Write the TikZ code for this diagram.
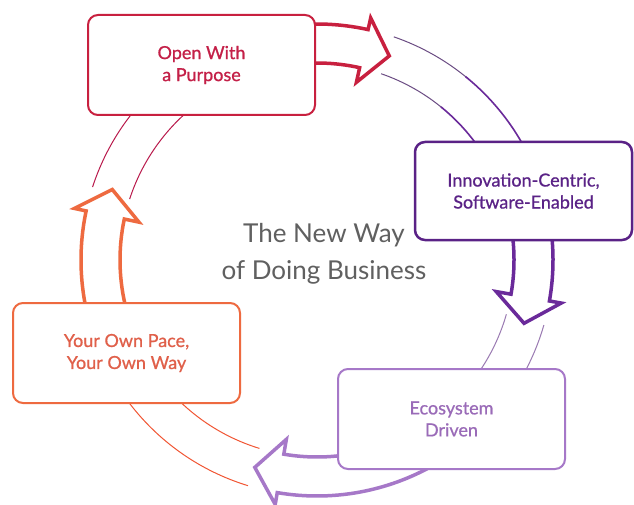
\documentclass[tikz,border=0pt]{standalone}
\usepackage{fontspec}
\setmainfont{Lato}
\newfontfamily\boxfont{Lato}[FakeBold=0.8]
\definecolor{cOpen}{HTML}{C8203F}
\definecolor{cOpenT}{HTML}{C42048}
\definecolor{cInno}{HTML}{5A2286}
\definecolor{cInnoA}{HTML}{6A2A9A}
\definecolor{cEco}{HTML}{A678C8}
\definecolor{cEcoT}{HTML}{9A6BB8}
\definecolor{cPace}{HTML}{EE6A40}
\definecolor{cPaceT}{HTML}{E0604A}
\definecolor{cMid}{HTML}{606060}
\tikzset{
  stepbox/.style={draw, fill=white, rounded corners=10pt, line width=2pt,
    minimum width=227pt, minimum height=100pt, align=center,
    font=\boxfont\fontsize{18}{22}\selectfont},
  ringarrow/.style={fill=white, line width=3.5pt, line join=miter},
  thinring/.style={line width=1pt}
}
\newcommand{\ringarrow}[3]{% start angle, head base angle, style
  \draw[ringarrow,#3] (#1:236) arc[start angle=#1, end angle=#2, radius=236]
    -- (#2:248) -- ({#2-7}:216.5) -- (#2:182) -- (#2:197)
    arc[start angle=#2, end angle=#1, radius=197] -- cycle;}
\begin{document}
\begin{tikzpicture}[x=1pt,y=1pt]
\useasboundingbox (0,0) rectangle (634,-505);
\fill[white] (0,0) rectangle (634,-505);
\coordinate (C) at (317,-260);
\begin{scope}[shift={(C)}]
  % thin ring segments
  \draw[thinring, color=cInno!55!gray] (71:236) arc[start angle=71, end angle=50, radius=236];
  \draw[thinring, color=cInno!55!gray] (71:197) arc[start angle=71, end angle=50, radius=197];
  \draw[line width=1.6pt, color=cInnoA] (51:236) arc[start angle=51, end angle=25, radius=236];
  \draw[line width=1.6pt, color=cInnoA] (51:197) arc[start angle=51, end angle=25, radius=197];
  \draw[thinring, color=cEco!70!gray] (-16:236) arc[start angle=-16, end angle=-40, radius=236];
  \draw[thinring, color=cEco!70!gray] (-16:197) arc[start angle=-16, end angle=-40, radius=197];
  \draw[thinring, color=cPace!80!red] (-107:236) arc[start angle=-107, end angle=-150, radius=236];
  \draw[thinring, color=cPace!80!red] (-107:197) arc[start angle=-107, end angle=-150, radius=197];
  \draw[thinring, color=cOpen!80!violet] (162:236) arc[start angle=162, end angle=130, radius=236];
  \draw[thinring, color=cOpen!80!violet] (162:197) arc[start angle=162, end angle=130, radius=197];
  % thick arrows
  \ringarrow{100}{77.5}{draw=cOpen}
  \ringarrow{20}{-10}{draw=cInnoA}
  \ringarrow{-60}{-99.7}{draw=cEco}
  \ringarrow{195}{168}{draw=cPace}
\end{scope}
% boxes
\node[stepbox, draw=cOpen, text=cOpenT] (open) at (201.5,-65) {Open With\\a Purpose};
\node[stepbox, draw=cInno, text=cInno, line width=2.5pt, minimum width=217pt, minimum height=98pt] (inno) at (523.5,-191) {Innovation-Centric,\\Software-Enabled};
\node[stepbox, draw=cEco, text=cEcoT] (eco) at (451.5,-419) {Ecosystem\\Driven};
\node[stepbox, draw=cPace, text=cPaceT] (pace) at (126.5,-353) {Your Own Pace,\\Your Own Way};
% centre title
\node[align=center, text=cMid, font=\fontsize{26}{37}\selectfont] (title) at (324,-254) {The New Way\\of Doing Business};
\end{tikzpicture}
\end{document}
